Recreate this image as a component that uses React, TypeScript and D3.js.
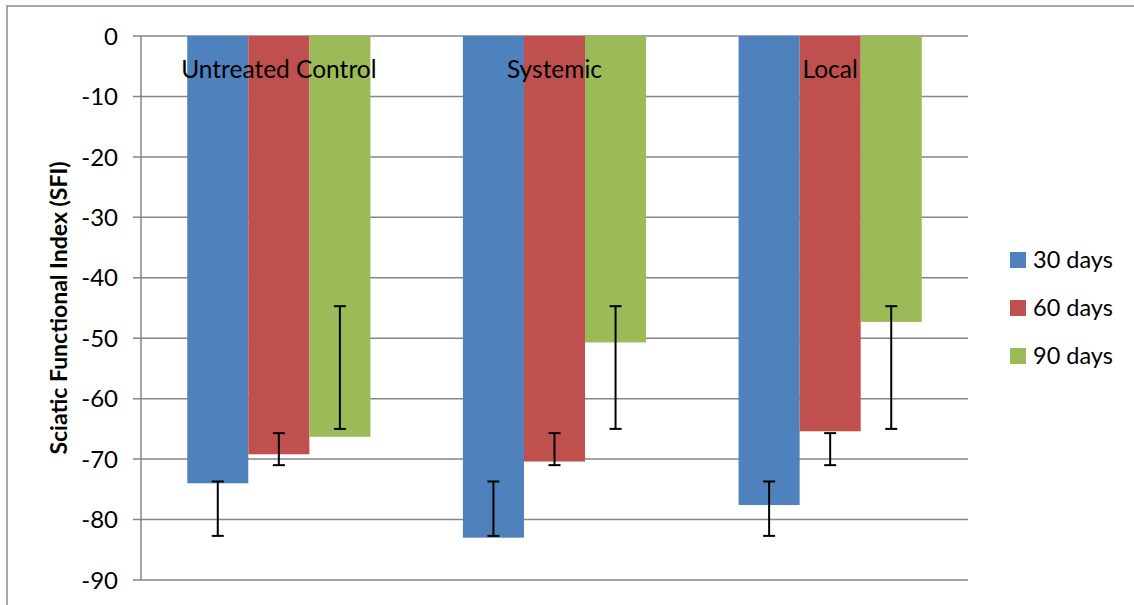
import React from "react";
import * as d3 from "d3";

const categories = ["Untreated Control", "Systemic", "Local"];
const seriesNames = ["30 days", "60 days", "90 days"];
const colors = ["#4F81BD", "#C0504D", "#9BBB59"];
const values30 = [-74.0, -83.0, -77.6];
const values60 = [-69.2, -70.4, -65.4];
const values90 = [-66.3, -50.7, -47.3];
// error bar extents (as drawn in the reference)
const err30 = [
  [-73.7, -82.7],
  [-73.7, -82.7],
  [-73.7, -82.7],
];
const err60 = [
  [-65.7, -71.0],
  [-65.7, -71.0],
  [-65.7, -71.0],
];
const err90 = [
  [-44.7, -65.0],
  [-44.7, -65.0],
  [-44.7, -65.0],
];
const yTicks = [0, -10, -20, -30, -40, -50, -60, -70, -80, -90];

const W = 1134;
const H = 605;
const left = 141;
const right = 968;
const top = 36;
const bottom = 580;
const FONT = "Lato, 'Open Sans', sans-serif";

export default function App() {
  const series = [values30, values60, values90];
  const errs = [err30, err60, err90];
  const y = d3.scaleLinear().domain([0, -90]).range([top, bottom]);
  const x0 = d3
    .scaleBand<string>()
    .domain(categories)
    .range([left, right])
    .paddingInner(0.3355)
    .paddingOuter(0.16775);
  const x1 = d3
    .scaleBand<string>()
    .domain(seriesNames)
    .range([0, x0.bandwidth()]);
  const grid = "#868686";

  return (
    <svg
      width={W}
      height={H}
      style={{ position: "absolute", left: 0, top: 0, background: "#fff" }}
    >
      <rect x={7} y={6} width={W + 20} height={H + 20} fill="#fff" stroke="#8a8a8a" strokeWidth={1.5} />
      {yTicks.map((t) => (
        <g key={t}>
          <line x1={133} x2={right} y1={y(t)} y2={y(t)} stroke={grid} strokeWidth={1.5} />
          <text
            x={118}
            y={y(t)}
            dy="0.36em"
            textAnchor="end"
            fontFamily={FONT}
            fontSize={24}
            fill="#000"
          >
            {t}
          </text>
        </g>
      ))}
      <line x1={left} x2={left} y1={top} y2={bottom} stroke={grid} strokeWidth={1.5} />
      {categories.map((c, ci) =>
        seriesNames.map((s, si) => {
          const v = series[si][ci];
          const bx = (x0(c) as number) + (x1(s) as number);
          const bw = x1.bandwidth();
          return (
            <rect
              key={c + s}
              x={bx}
              y={y(0)}
              width={bw}
              height={y(v) - y(0)}
              fill={colors[si]}
            />
          );
        })
      )}
      {categories.map((c, ci) =>
        seriesNames.map((s, si) => {
          const [hi, lo] = errs[si][ci];
          const cx = (x0(c) as number) + (x1(s) as number) + x1.bandwidth() / 2;
          return (
            <g key={"e" + c + s} stroke="#000" strokeWidth={2}>
              <line x1={cx} x2={cx} y1={y(hi)} y2={y(lo)} />
              <line x1={cx - 6} x2={cx + 6} y1={y(hi)} y2={y(hi)} />
              <line x1={cx - 6} x2={cx + 6} y1={y(lo)} y2={y(lo)} />
            </g>
          );
        })
      )}
      {categories.map((c) => (
        <text
          key={"l" + c}
          x={(x0(c) as number) + x0.bandwidth() / 2}
          y={78}
          textAnchor="middle"
          fontFamily={FONT}
          fontSize={24.5}
          fill="#000"
        >
          {c}
        </text>
      ))}
      <text
        transform={`translate(67,${(top + bottom) / 2}) rotate(-90)`}
        textAnchor="middle"
        fontFamily={FONT}
        fontSize={23}
        fontWeight="bold"
        fill="#000"
      >
        Sciatic Functional Index (SFI)
      </text>
      {seriesNames.map((s, i) => (
        <g key={"lg" + s} transform={`translate(1010,${260 + i * 48})`}>
          <rect x={0} y={-8} width={16} height={16} fill={colors[i]} />
          <text x={23} y={0} dy="0.36em" fontFamily={FONT} fontSize={23.5} fill="#000">
            {s}
          </text>
        </g>
      ))}
    </svg>
  );
}
